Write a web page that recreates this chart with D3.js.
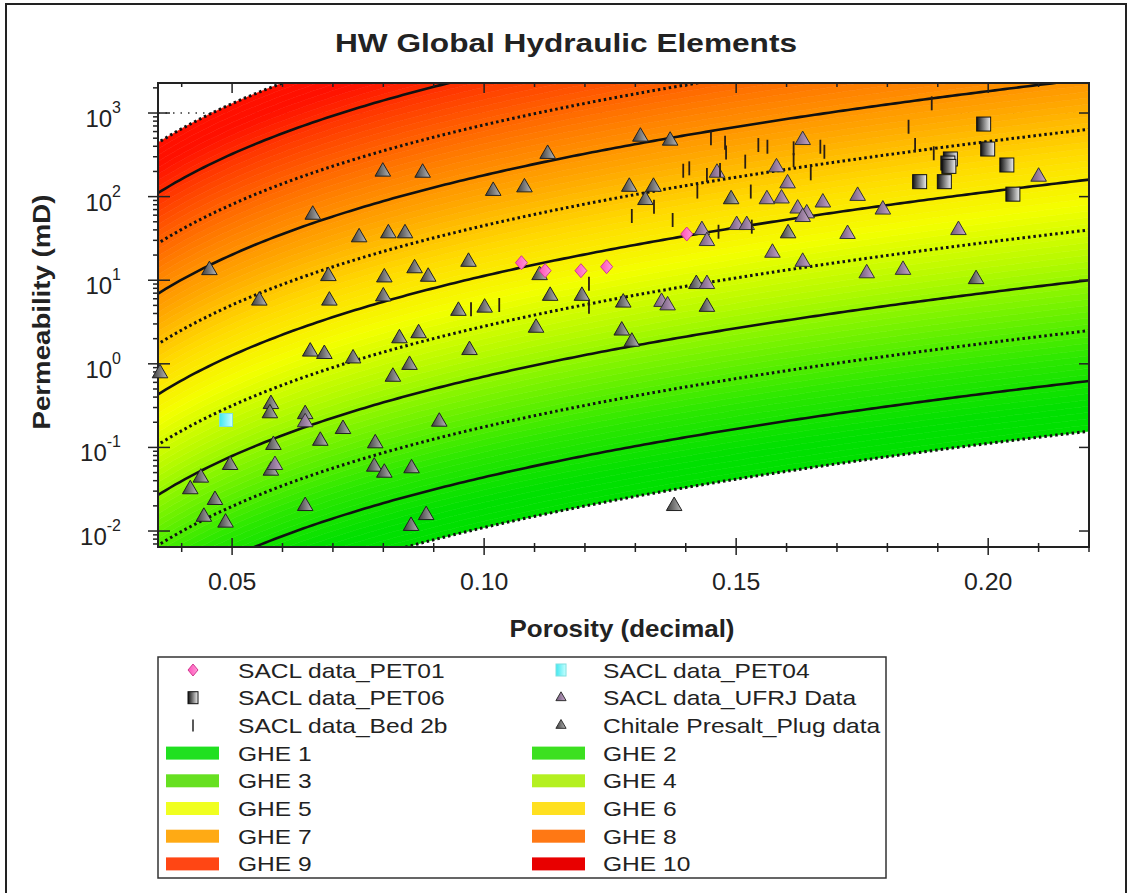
<!DOCTYPE html>
<html>
<head>
<meta charset="utf-8">
<script src="https://cdn.jsdelivr.net/npm/d3@7"></script>
<style>
  body { margin: 0; background: #fff; }
  svg { font-family: Arial, "Liberation Sans", sans-serif; }
</style>
</head>
<body>
<div id="chart-area"></div>
<script>
// GHE boundaries (FZI, microns) and band colours
const gheNames = ["GHE 1", "GHE 2", "GHE 3", "GHE 4", "GHE 5", "GHE 6", "GHE 7", "GHE 8", "GHE 9", "GHE 10"];
const fziBounds = [0.0938, 0.1875, 0.375, 0.75, 1.5, 3, 6, 12, 24, 48, 96];
const gheColors = ["#00e000", "#2ce800", "#72f200", "#b8fa00", "#f4ff00", "#ffdc00", "#ffaa00", "#ff7c00", "#ff4a00", "#ff1000"];
const legendColors = ["#20e020", "#3ce020", "#66e020", "#b4f020", "#f0ff20", "#ffe020", "#ffaa14", "#ff7814", "#ff4614", "#e80000"];

const xTicks = [0.05, 0.10, 0.15, 0.20];
const yTicks = [0.01, 0.1, 1, 10, 100, 1000];
const yTickExp = ["-2", "-1", "0", "1", "2", "3"];

// [porosity, permeability mD]
const pet01 = [[0.1074, 16.2], [0.1121, 13.0], [0.1192, 13.0], [0.1243, 14.5], [0.1402, 35.7]];
const pet04 = [[0.0488, 0.213]];
const pet06 = [[0.1991, 738], [0.1999, 371], [0.1925, 282], [0.1920, 252], [0.1922, 230], [0.2037, 239],
  [0.1864, 151], [0.1913, 151], [0.2049, 107]];
const bed2b = [[0.0974, 4.5], [0.103, 5.05], [0.1208, 9.1], [0.1208, 4.8], [0.1888, 1306], [0.145, 498],
  [0.1478, 440], [0.148, 337], [0.1544, 414], [0.1562, 395], [0.1614, 378], [0.1614, 274], [0.1667, 395],
  [0.1675, 344], [0.1395, 204], [0.1407, 218], [0.1442, 181], [0.1468, 208], [0.1518, 262], [0.1423, 115],
  [0.1529, 115], [0.1648, 190], [0.1293, 58.6], [0.1337, 75.7], [0.1374, 52.5], [0.1465, 38], [0.1531, 43.7],
  [0.1842, 685], [0.1855, 414], [0.1892, 330]];
const ufrj = [[0.1632, 475], [0.1462, 193], [0.158, 224], [0.1602, 144], [0.1561, 93], [0.159, 95], [0.1622, 72],
  [0.164, 63], [0.1632, 57], [0.1672, 85], [0.1741, 102], [0.1791, 70], [0.1501, 45.7], [0.1521, 45.7],
  [0.1432, 39.8], [0.1442, 29.4], [0.1721, 35.7], [0.1941, 39.8], [0.1572, 21.3], [0.1632, 16.6], [0.1759, 12.1],
  [0.1831, 13.3], [0.21, 173], [0.1442, 9.0], [0.1352, 5.5], [0.1364, 5.0], [0.0645, 0.20], [0.0585, 0.0616]];
const chitale = [[0.0799, 199], [0.0878, 193], [0.1126, 324], [0.1018, 117], [0.108, 129], [0.066, 60.7],
  [0.0752, 32.6], [0.081, 36.4], [0.0843, 36.4], [0.0455, 13.2], [0.0691, 11.2], [0.0802, 10.8], [0.0862, 13.9],
  [0.0889, 11.0], [0.0969, 16.6], [0.111, 11.5], [0.0554, 5.7], [0.0693, 5.7], [0.080, 6.4], [0.0949, 4.3],
  [0.1001, 4.7], [0.1131, 6.5], [0.1194, 6.5], [0.1103, 2.7], [0.0655, 1.40], [0.0683, 1.31], [0.074, 1.16],
  [0.0832, 2.02], [0.087, 2.32], [0.0971, 1.46], [0.0852, 0.97], [0.0819, 0.70], [0.0357, 0.77],
  [0.0577, 0.33], [0.0575, 0.256], [0.0645, 0.25], [0.072, 0.166], [0.0675, 0.12], [0.0784, 0.112],
  [0.0911, 0.203], [0.0582, 0.107], [0.0496, 0.0616], [0.0577, 0.0527], [0.0438, 0.0435], [0.0417, 0.0316],
  [0.0466, 0.0235], [0.0444, 0.0148], [0.0487, 0.0126], [0.0645, 0.0199], [0.0782, 0.0588], [0.0802, 0.0498],
  [0.0856, 0.0563], [0.0885, 0.0155], [0.0855, 0.0115],
  [0.131, 521], [0.1369, 467], [0.1288, 131], [0.1336, 131], [0.132, 91], [0.149, 93], [0.1603, 36.4],
  [0.1976, 10.3], [0.1421, 9.0], [0.1276, 5.4], [0.1442, 4.8], [0.1273, 2.5], [0.1293, 1.84], [0.1377, 0.0199]];

const W = 1132, H = 893;
const PL = 158, PR = 1089, PT = 83, PB = 547;

const svg = d3.select("#chart-area").append("svg")
  .attr("width", W).attr("height", H);

// text in the picture is a little wider than plain Arial
function stretch(sel, f) {
  sel.each(function () {
    const w = this.getComputedTextLength();
    d3.select(this).attr("textLength", w * f).attr("lengthAdjust", "spacingAndGlyphs");
  });
}

const defs = svg.append("defs");
function grad(id, c1, c2) {
  const g = defs.append("linearGradient").attr("id", id).attr("x1", 0).attr("x2", 1).attr("y1", 0).attr("y2", 0);
  g.append("stop").attr("offset", "0%").attr("stop-color", c1);
  g.append("stop").attr("offset", "100%").attr("stop-color", c2);
}
grad("gGray", "#3c3c3c", "#b8b8b8");
grad("gPurple", "#6e5878", "#c8a8cc");
grad("gSq", "#101010", "#f0f0f0");
grad("gPink", "#ff4fb8", "#ff9ad8");
grad("gCyan", "#40e8f0", "#c8ffff");

defs.append("clipPath").attr("id", "plotClip")
  .append("rect").attr("x", PL).attr("y", PT).attr("width", PR - PL).attr("height", PB - PT);

// outer frame
svg.append("rect").attr("x", 6).attr("y", 4).attr("width", 1120).attr("height", 900)
  .attr("fill", "none").attr("stroke", "#222").attr("stroke-width", 2);

const x = d3.scaleLinear().domain([0.0353, 0.2200]).range([PL, PR]);
const y = d3.scaleLog().domain([0.00644, 2286]).range([PB, PT]);

// k = 1014 FZI^2 phi^3 / (1-phi)^2
const perm = (fzi, phi) => 1014 * fzi * fzi * Math.pow(phi, 3) / Math.pow(1 - phi, 2);
const phis = d3.range(0, 201).map(i => 0.034 + i * (0.222 - 0.034) / 200);

const plot = svg.append("g").attr("clip-path", "url(#plotClip)");

// dotted gridline at 10^3 (only shows in the blank corner)
plot.append("line").attr("x1", PL).attr("x2", PR).attr("y1", y(1000)).attr("y2", y(1000))
  .attr("stroke", "#333").attr("stroke-width", 1.5).attr("stroke-dasharray", "1.5,6");

// colour bands, each split into thin strips for a smooth gradient
const logMid = gheNames.map((d, i) => (Math.log10(fziBounds[i]) + Math.log10(fziBounds[i + 1])) / 2);
const colorScale = d3.scaleLinear().domain(logMid).range(gheColors).interpolate(d3.interpolateRgb).clamp(true);
const strips = [];
const nSub = 8;
for (let i = 0; i < gheNames.length; i++) {
  const a = Math.log10(fziBounds[i]), b = Math.log10(fziBounds[i + 1]);
  for (let j = 0; j < nSub; j++) {
    const lo = a + (b - a) * j / nSub, hi = a + (b - a) * (j + 1) / nSub;
    strips.push({ lo: Math.pow(10, lo), hi: Math.pow(10, hi), c: colorScale((lo + hi) / 2) });
  }
}
plot.selectAll("path.strip").data(strips).enter().append("path")
  .attr("class", "strip")
  .attr("d", d => d3.area().x(p => x(p)).y0(p => y(perm(d.lo, p))).y1(p => y(perm(d.hi, p)))(phis))
  .attr("fill", d => d.c).attr("stroke", d => d.c).attr("stroke-width", 0.6);

// boundary lines: alternating dotted / solid
const line = fzi => d3.line().x(p => x(p)).y(p => y(perm(fzi, p)))(phis);
plot.selectAll("path.bound").data(fziBounds).enter().append("path")
  .attr("class", "bound")
  .attr("d", d => line(d))
  .attr("fill", "none").attr("stroke", "#111")
  .attr("stroke-width", (d, i) => i % 2 === 0 ? 3 : 2.6)
  .attr("stroke-dasharray", (d, i) => i % 2 === 0 ? "2.5,3" : null);

// axes frame and ticks
svg.append("rect").attr("x", PL).attr("y", PT).attr("width", PR - PL).attr("height", PB - PT)
  .attr("fill", "none").attr("stroke", "#222").attr("stroke-width", 2);

const minorX = d3.range(4, 23).map(d => d / 100).filter(d => x(d) >= PL && x(d) <= PR);
const tg = svg.append("g").attr("stroke", "#222").attr("stroke-width", 1.5);
minorX.forEach(v => {
  const major = Math.abs(v * 20 - Math.round(v * 20)) < 1e-6;
  tg.append("line").attr("x1", x(v)).attr("x2", x(v)).attr("y1", PB).attr("y2", PB + (major ? 8 : 5));
  tg.append("line").attr("x1", x(v)).attr("x2", x(v)).attr("y1", PB).attr("y2", PB - (major ? 9 : 4));
  tg.append("line").attr("x1", x(v)).attr("x2", x(v)).attr("y1", PT).attr("y2", PT + (major ? 10 : 4));
});
const minorY = [];
for (let e = -3; e <= 3; e++) for (let m = 1; m <= 9; m++) {
  const v = m * Math.pow(10, e);
  if (y(v) >= PT && y(v) <= PB) minorY.push({ v, major: m === 1 });
}
minorY.forEach(d => {
  tg.append("line").attr("x1", d.major ? PL - 10 : PL - 5).attr("x2", d.major ? PL + 12 : PL)
    .attr("y1", y(d.v)).attr("y2", y(d.v));
  tg.append("line").attr("x1", PR).attr("x2", PR - (d.major ? 10 : 0)).attr("y1", y(d.v)).attr("y2", y(d.v));
});

svg.selectAll("text.xt").data(xTicks).enter().append("text")
  .attr("class", "xt").attr("x", d => x(d)).attr("y", 590)
  .attr("text-anchor", "middle").attr("font-size", 23).attr("fill", "#222")
  .text(d => d.toFixed(2))
  .call(stretch, 1.08);

const yt = svg.selectAll("text.yt").data(yTicks).enter().append("text")
  .attr("class", "yt").attr("x", 121).attr("y", d => y(d) + 14)
  .attr("text-anchor", "end").attr("fill", "#222").attr("font-size", 24);
yt.append("tspan").text("10");
yt.append("tspan").attr("dy", -14).attr("font-size", 16).text((d, i) => yTickExp[i]);

// data marks
const pts = svg.append("g");
const tri = d3.symbol().type(d3.symbolTriangle).size(105)();
pts.selectAll("path.chi").data(chitale).enter().append("path")
  .attr("d", tri).attr("transform", d => `translate(${x(d[0])},${y(d[1])})`)
  .attr("fill", "url(#gGray)").attr("stroke", "#222").attr("stroke-width", 1);
pts.selectAll("path.ufrj").data(ufrj).enter().append("path")
  .attr("d", tri).attr("transform", d => `translate(${x(d[0])},${y(d[1])})`)
  .attr("fill", "url(#gPurple)").attr("stroke", "#333").attr("stroke-width", 1);
pts.selectAll("line.bed").data(bed2b).enter().append("line")
  .attr("x1", d => x(d[0])).attr("x2", d => x(d[0]))
  .attr("y1", d => y(d[1]) - 7).attr("y2", d => y(d[1]) + 7)
  .attr("stroke", "#2a1e14").attr("stroke-width", 1.8);
pts.selectAll("rect.p06").data(pet06).enter().append("rect")
  .attr("x", d => x(d[0]) - 7).attr("y", d => y(d[1]) - 7).attr("width", 14).attr("height", 14)
  .attr("fill", "url(#gSq)").attr("stroke", "#111").attr("stroke-width", 1);
pts.selectAll("rect.p04").data(pet04).enter().append("rect")
  .attr("x", d => x(d[0]) - 6.5).attr("y", d => y(d[1]) - 6.5).attr("width", 13).attr("height", 13)
  .attr("fill", "url(#gCyan)").attr("stroke", "#80e0e0").attr("stroke-width", 1);
const diamond = "M0,-7L6,0L0,7L-6,0Z";
pts.selectAll("path.p01").data(pet01).enter().append("path")
  .attr("d", diamond).attr("transform", d => `translate(${x(d[0])},${y(d[1])})`)
  .attr("fill", "url(#gPink)").attr("stroke", "#d03a90").attr("stroke-width", 1);

// titles
svg.append("text").attr("x", 566).attr("y", 52).attr("text-anchor", "middle")
  .attr("font-size", 26).attr("font-weight", "bold").attr("fill", "#222")
  .attr("textLength", 462).attr("lengthAdjust", "spacingAndGlyphs")
  .text("HW Global Hydraulic Elements");
svg.append("text").attr("x", 622).attr("y", 637).attr("text-anchor", "middle")
  .attr("font-size", 24).attr("font-weight", "bold").attr("fill", "#222")
  .attr("textLength", 225).attr("lengthAdjust", "spacingAndGlyphs")
  .text("Porosity (decimal)");
svg.append("text").attr("transform", "translate(50, 312) rotate(-90)")
  .attr("text-anchor", "middle").attr("font-size", 24).attr("font-weight", "bold").attr("fill", "#222")
  .attr("textLength", 235).attr("lengthAdjust", "spacingAndGlyphs")
  .text("Permeability (mD)");

// legend
const lg = svg.append("g");
lg.append("rect").attr("x", 158).attr("y", 657).attr("width", 728).attr("height", 221)
  .attr("fill", "#fff").attr("stroke", "#333").attr("stroke-width", 1.5);
const rowY = i => 670 + i * 27.7;
const col = [{ sx: 193, tx: 238, bx: 166 }, { sx: 561, tx: 603, bx: 532 }];
const symItems = [
  { name: "SACL data_PET01", kind: "pink" }, { name: "SACL data_PET04", kind: "cyan" },
  { name: "SACL data_PET06", kind: "sq" }, { name: "SACL data_UFRJ Data", kind: "purple" },
  { name: "SACL data_Bed 2b", kind: "bed" }, { name: "Chitale Presalt_Plug data", kind: "gray" }];
symItems.forEach((d, i) => {
  const c = col[i % 2], yy = rowY(Math.floor(i / 2));
  const g = lg.append("g").attr("transform", `translate(${c.sx},${yy})`);
  if (d.kind === "pink") g.append("path").attr("d", "M0,-6L5,0L0,6L-5,0Z").attr("fill", "url(#gPink)").attr("stroke", "#d03a90");
  if (d.kind === "cyan") g.append("rect").attr("x", -5).attr("y", -6).attr("width", 10).attr("height", 12).attr("fill", "url(#gCyan)").attr("stroke", "#80e0e0");
  if (d.kind === "sq") g.append("rect").attr("x", -5).attr("y", -6).attr("width", 10).attr("height", 12).attr("fill", "url(#gSq)").attr("stroke", "#111");
  if (d.kind === "bed") g.append("line").attr("y1", -6).attr("y2", 6).attr("stroke", "#222").attr("stroke-width", 1.5);
  if (d.kind === "purple" || d.kind === "gray")
    g.append("path").attr("d", d3.symbol().type(d3.symbolTriangle).size(45)())
      .attr("fill", d.kind === "purple" ? "url(#gPurple)" : "url(#gGray)").attr("stroke", "#333");
  lg.append("text").attr("x", c.tx).attr("y", yy + 7.5).attr("font-size", 21).attr("fill", "#222")
    .text(d.name).call(stretch, 1.17);
});
gheNames.forEach((d, i) => {
  const c = col[i % 2], yy = rowY(3 + Math.floor(i / 2));
  lg.append("rect").attr("x", c.bx).attr("y", yy - 6.5).attr("width", 53).attr("height", 13).attr("fill", legendColors[i]);
  lg.append("text").attr("x", c.tx).attr("y", yy + 7.5).attr("font-size", 21).attr("fill", "#222")
    .text(d).call(stretch, 1.17);
});
</script>
</body>
</html>
